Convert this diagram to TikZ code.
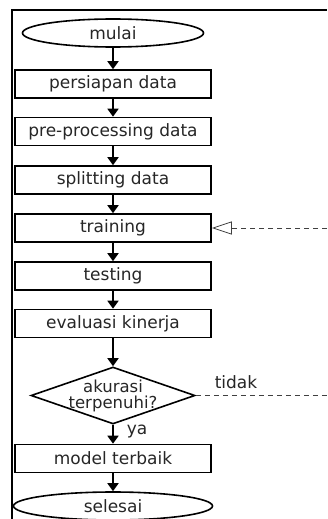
\documentclass[tikz,border=0pt]{standalone}
\usepackage{fontspec}
\setmainfont{DejaVu Sans}
\usepackage{tikz}
\usetikzlibrary{shapes}
\usetikzlibrary{arrows.meta}
\tikzset{proses/.style={draw, line width=1.6pt, minimum width=196pt, minimum height=28pt,
   inner sep=0pt, font=\fontsize{17}{20}\selectfont, text=black!85},
 terminal/.style={proses, ellipse},
 keputusan/.style={draw, diamond, line width=1.6pt, minimum width=164pt, minimum height=57pt,
   aspect=2.9, inner sep=-6pt, align=center, font=\fontsize{16.5}{16}\selectfont, text=black!85},
 alur/.style={line width=1.8pt, -{Triangle[length=8pt,width=11pt]}},
 balik/.style={line width=0.8pt, black!75, dash pattern=on 5pt off 4pt},
 keterangan/.style={font=\fontsize{17}{20}\selectfont, text=black!85},
 }

\begin{document}
\begin{tikzpicture}[x=1pt, y=-1pt]
        \useasboundingbox (0, 0) rectangle (327, 519);
        \draw[line width=2.5pt] (12, 519) -- (12, 10) -- (327, 10);

        \node[terminal, minimum width=181pt] (mulai) at (113, 33) {mulai};
        \foreach \nama/\teks/\y in {persiapan/persiapan data/84, preproses/pre-processing data/131.5,
            splitting/splitting data/180, training/training/228, testing/testing/276,
            evaluasi/evaluasi kinerja/323.5} {
            \node[proses] (\nama) at (113, \y) {\teks};
        }
        \node[keputusan] (akurasi) at (113, 395.5) {akurasi\\terpenuhi?};
        \node[proses] (model) at (113, 458.5) {model terbaik};
        \node[terminal, minimum width=199pt] (selesai) at (113, 506) {selesai};

        \foreach \a/\b in {mulai/persiapan, persiapan/preproses, preproses/splitting,
            splitting/training, training/testing, testing/evaluasi, evaluasi/akurasi,
            akurasi/model, model/selesai} {
            \draw[alur] (\a) -- (\b);
        }

        \coordinate (ujungAtas) at (327, 228);
        \coordinate (ujungBawah) at (327, 395.5);
        \draw[balik] (akurasi.east) -- (ujungBawah);
        \draw[balik, -{Triangle[open, length=20pt, width=13pt]}] (ujungAtas) -- (training.east);
        \node[keterangan] (tidak) at (236, 382) {tidak};
        \node[keterangan] (ya) at (137, 432) {ya};
    \end{tikzpicture}
\end{document}
